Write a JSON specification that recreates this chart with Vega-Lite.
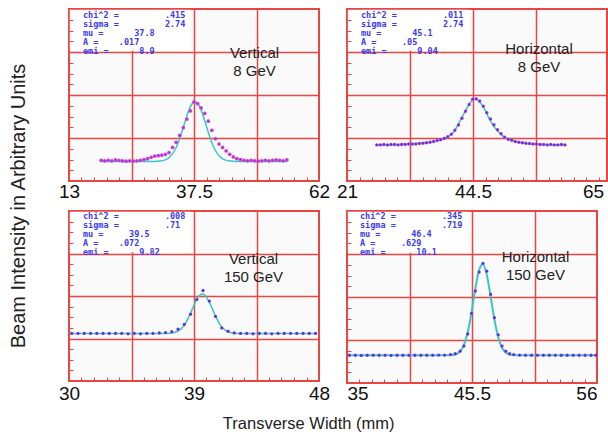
{
  "$schema": "https://vega.github.io/schema/vega-lite/v6.json",
  "padding": {"left": 9, "top": 8, "right": 4, "bottom": 5},
  "background": "white",
  "config": {
    "view": {"stroke": "#e84545", "strokeWidth": 2, "fill": "#fafafa"},
    "title": {"font": "Liberation Sans", "fontWeight": "normal", "color": "#222"}
  },
  "datasets": {
    "p1_pts": [
      {"x":19.3,"y":0.48},{"x":20.0,"y":0.47},{"x":20.7,"y":0.48},{"x":21.4,"y":0.47},{"x":22.1,"y":0.49},{"x":22.8,"y":0.48},{"x":23.5,"y":0.47},{"x":24.2,"y":0.46},{"x":24.9,"y":0.47},{"x":25.6,"y":0.46},{"x":26.3,"y":0.47},{"x":27.0,"y":0.48},{"x":27.7,"y":0.50},{"x":28.4,"y":0.52},{"x":29.1,"y":0.55},{"x":29.8,"y":0.58},{"x":30.5,"y":0.59},{"x":31.2,"y":0.60},{"x":31.9,"y":0.62},{"x":32.6,"y":0.66},{"x":33.3,"y":0.78},{"x":34.0,"y":0.90},{"x":34.7,"y":1.06},{"x":35.4,"y":1.24},{"x":36.1,"y":1.44},{"x":36.8,"y":1.63},{"x":37.5,"y":1.84},{"x":38.2,"y":1.80},{"x":38.9,"y":1.70},{"x":39.6,"y":1.57},{"x":40.3,"y":1.39},{"x":41.0,"y":1.18},{"x":41.7,"y":0.98},{"x":42.4,"y":0.86},{"x":43.1,"y":0.78},{"x":43.8,"y":0.70},{"x":44.5,"y":0.62},{"x":45.2,"y":0.56},{"x":45.9,"y":0.52},{"x":46.6,"y":0.50},{"x":47.3,"y":0.48},{"x":48.0,"y":0.47},{"x":48.7,"y":0.48},{"x":49.4,"y":0.47},{"x":50.1,"y":0.46},{"x":50.8,"y":0.47},{"x":51.5,"y":0.48},{"x":52.2,"y":0.47},{"x":52.9,"y":0.48},{"x":53.6,"y":0.49},{"x":54.3,"y":0.48},{"x":55.0,"y":0.47},{"x":55.7,"y":0.49}
    ],
    "p1_fit": [
      {"x":19.3,"y":0.455},{"x":26,"y":0.455},{"x":29.7,"y":0.456},{"x":30.7,"y":0.463},{"x":31.7,"y":0.485},{"x":32.7,"y":0.553},{"x":33.7,"y":0.709},{"x":34.2,"y":0.833},{"x":34.7,"y":0.99},{"x":35.2,"y":1.171},{"x":35.7,"y":1.364},{"x":36.2,"y":1.549},{"x":36.7,"y":1.705},{"x":37.2,"y":1.809},{"x":37.7,"y":1.845},{"x":38.2,"y":1.809},{"x":38.7,"y":1.705},{"x":39.2,"y":1.549},{"x":39.7,"y":1.364},{"x":40.2,"y":1.171},{"x":40.7,"y":0.99},{"x":41.2,"y":0.833},{"x":41.7,"y":0.709},{"x":42.7,"y":0.553},{"x":43.7,"y":0.485},{"x":44.7,"y":0.463},{"x":45.7,"y":0.456},{"x":50,"y":0.455},{"x":55.7,"y":0.455}
    ],
    "p2_pts": [
      {"x":26.2,"y":0.84},{"x":26.82,"y":0.84},{"x":27.44,"y":0.85},{"x":28.06,"y":0.84},{"x":28.68,"y":0.85},{"x":29.3,"y":0.85},{"x":29.92,"y":0.84},{"x":30.54,"y":0.85},{"x":31.16,"y":0.85},{"x":31.78,"y":0.86},{"x":32.4,"y":0.86},{"x":33.02,"y":0.86},{"x":33.64,"y":0.87},{"x":34.26,"y":0.88},{"x":34.88,"y":0.89},{"x":35.5,"y":0.90},{"x":36.12,"y":0.92},{"x":36.74,"y":0.94},{"x":37.36,"y":0.96},{"x":37.98,"y":0.99},{"x":38.6,"y":1.03},{"x":39.22,"y":1.09},{"x":39.84,"y":1.18},{"x":40.46,"y":1.30},{"x":41.08,"y":1.46},{"x":41.7,"y":1.62},{"x":42.32,"y":1.78},{"x":42.94,"y":1.90},{"x":43.56,"y":1.91},{"x":44.18,"y":1.86},{"x":44.8,"y":1.74},{"x":45.42,"y":1.59},{"x":46.04,"y":1.44},{"x":46.66,"y":1.31},{"x":47.28,"y":1.19},{"x":47.9,"y":1.10},{"x":48.52,"y":1.02},{"x":49.14,"y":0.97},{"x":49.76,"y":0.95},{"x":50.38,"y":0.92},{"x":51.0,"y":0.90},{"x":51.62,"y":0.89},{"x":52.24,"y":0.88},{"x":52.86,"y":0.87},{"x":53.48,"y":0.86},{"x":54.1,"y":0.86},{"x":54.72,"y":0.85},{"x":55.34,"y":0.85},{"x":55.96,"y":0.84},{"x":56.58,"y":0.85},{"x":57.2,"y":0.84},{"x":57.82,"y":0.84},{"x":58.44,"y":0.85},{"x":59.06,"y":0.84}
    ],
    "p2_fit": [
      {"x":26.16,"y":0.84},{"x":30.29,"y":0.85},{"x":33.38,"y":0.87},{"x":35.45,"y":0.90},{"x":37.0,"y":0.95},{"x":38.54,"y":1.03},{"x":39.57,"y":1.13},{"x":40.6,"y":1.36},{"x":41.64,"y":1.62},{"x":42.67,"y":1.85},{"x":43.29,"y":1.91},{"x":43.91,"y":1.87},{"x":44.73,"y":1.74},{"x":45.76,"y":1.47},{"x":46.8,"y":1.24},{"x":47.83,"y":1.09},{"x":48.86,"y":0.99},{"x":50.41,"y":0.92},{"x":51.95,"y":0.88},{"x":55.05,"y":0.85},{"x":58.97,"y":0.84}
    ],
    "p3_pts": [
      {"x":30.2,"y":1.12},{"x":30.65,"y":1.12},{"x":31.1,"y":1.12},{"x":31.55,"y":1.12},{"x":32.0,"y":1.12},{"x":32.45,"y":1.12},{"x":32.9,"y":1.12},{"x":33.35,"y":1.12},{"x":33.8,"y":1.12},{"x":34.25,"y":1.11},{"x":34.7,"y":1.12},{"x":35.15,"y":1.11},{"x":35.6,"y":1.12},{"x":36.05,"y":1.12},{"x":36.5,"y":1.13},{"x":36.95,"y":1.14},{"x":37.4,"y":1.16},{"x":37.85,"y":1.22},{"x":38.3,"y":1.33},{"x":38.75,"y":1.57},{"x":39.2,"y":1.92},{"x":39.65,"y":2.13},{"x":40.1,"y":1.88},{"x":40.55,"y":1.52},{"x":41.0,"y":1.25},{"x":41.45,"y":1.17},{"x":41.9,"y":1.13},{"x":42.35,"y":1.12},{"x":42.8,"y":1.12},{"x":43.25,"y":1.11},{"x":43.7,"y":1.12},{"x":44.15,"y":1.12},{"x":44.6,"y":1.11},{"x":45.05,"y":1.12},{"x":45.5,"y":1.12},{"x":45.95,"y":1.12},{"x":46.4,"y":1.12},{"x":46.85,"y":1.12},{"x":47.3,"y":1.12},{"x":47.75,"y":1.12}
    ],
    "p3_fit": [
      {"x":30.2,"y":1.115},{"x":36.6,"y":1.115},{"x":37.1,"y":1.118},{"x":37.6,"y":1.139},{"x":38.1,"y":1.235},{"x":38.35,"y":1.34},{"x":38.6,"y":1.49},{"x":38.85,"y":1.673},{"x":39.1,"y":1.856},{"x":39.35,"y":1.994},{"x":39.6,"y":2.045},{"x":39.85,"y":1.994},{"x":40.1,"y":1.856},{"x":40.35,"y":1.673},{"x":40.6,"y":1.49},{"x":40.85,"y":1.34},{"x":41.1,"y":1.235},{"x":41.6,"y":1.139},{"x":42.1,"y":1.118},{"x":42.6,"y":1.115},{"x":47.75,"y":1.115}
    ],
    "p4_pts": [
      {"x":35.2,"y":0.645},{"x":35.7,"y":0.645},{"x":36.2,"y":0.64},{"x":36.7,"y":0.645},{"x":37.2,"y":0.645},{"x":37.7,"y":0.645},{"x":38.2,"y":0.645},{"x":38.7,"y":0.64},{"x":39.2,"y":0.645},{"x":39.7,"y":0.645},{"x":40.2,"y":0.645},{"x":40.7,"y":0.645},{"x":41.2,"y":0.645},{"x":41.7,"y":0.645},{"x":42.2,"y":0.645},{"x":42.7,"y":0.65},{"x":43.2,"y":0.65},{"x":43.7,"y":0.66},{"x":44.1,"y":0.68},{"x":44.5,"y":0.74},{"x":44.82,"y":0.86},{"x":45.14,"y":1.14},{"x":45.46,"y":1.62},{"x":45.78,"y":2.14},{"x":46.1,"y":2.58},{"x":46.42,"y":2.78},{"x":46.74,"y":2.60},{"x":47.06,"y":2.06},{"x":47.38,"y":1.52},{"x":47.7,"y":1.12},{"x":48.02,"y":0.86},{"x":48.34,"y":0.74},{"x":48.66,"y":0.68},{"x":49.0,"y":0.66},{"x":49.5,"y":0.65},{"x":50.0,"y":0.645},{"x":50.5,"y":0.645},{"x":51.0,"y":0.645},{"x":51.5,"y":0.645},{"x":52.0,"y":0.645},{"x":52.5,"y":0.645},{"x":53.0,"y":0.645},{"x":53.5,"y":0.645},{"x":54.0,"y":0.645},{"x":54.5,"y":0.645},{"x":55.0,"y":0.645},{"x":55.5,"y":0.645},{"x":55.9,"y":0.645}
    ],
    "p4_fit": [
      {"x":35.2,"y":0.645},{"x":43.6,"y":0.647},{"x":44.2,"y":0.674},{"x":44.5,"y":0.73},{"x":44.82,"y":0.88},{"x":45.14,"y":1.18},{"x":45.46,"y":1.64},{"x":45.78,"y":2.19},{"x":46.1,"y":2.63},{"x":46.42,"y":2.76},{"x":46.74,"y":2.52},{"x":47.06,"y":2.02},{"x":47.38,"y":1.48},{"x":47.7,"y":1.07},{"x":48.02,"y":0.82},{"x":48.34,"y":0.71},{"x":48.66,"y":0.66},{"x":49.2,"y":0.648},{"x":55.9,"y":0.645}
    ]
  },
  "title": {"text": "Transverse Width (mm)", "orient": "bottom", "anchor": "middle", "offset": 12, "fontSize": 16.5},
  "vconcat": [
    {
      "title": {"text": "Beam Intensity in Arbitrary Units", "orient": "left", "anchor": "middle", "offset": 28, "fontSize": 20},
      "columns": 2,
      "spacing": {"row": 30, "column": 28},
      "bounds": "flush",
      "concat": [
        {
          "width": 250, "height": 172,
          "data": {"values": [{"stats": "chi^2 =\u00a0\u00a0\u00a0\u00a0\u00a0\u00a0\u00a0\u00a0\u00a0.415\nsigma =\u00a0\u00a0\u00a0\u00a0\u00a0\u00a0\u00a0\u00a0\u00a02.74\nmu =\u00a0\u00a0\u00a0\u00a0\u00a0\u00a037.8\nA =\u00a0\u00a0\u00a0\u00a0.017\nemi =\u00a0\u00a0\u00a0\u00a0\u00a0\u00a08.9", "label": "Vertical\n8 GeV"}]},
          "layer": [
            {"mark": {"type": "rect", "fill": "white"},
             "encoding": {
               "x": {"datum": 13.15, "type": "quantitative", "scale": {"domain": [13, 62], "nice": false, "zero": false}, "axis": {"orient": "top", "title": null, "values": [25.25, 37.5, 49.75], "grid": true, "gridColor": "#e84545", "gridWidth": 1.5, "gridOpacity": 1, "ticks": false, "labels": false, "domain": false, "zindex": 0}},
               "x2": {"datum": 36.8},
               "y": {"datum": 3.03, "type": "quantitative", "scale": {"domain": [0, 4], "nice": false, "zero": false}, "axis": {"orient": "right", "title": null, "values": [1, 2, 3], "grid": true, "gridColor": "#e84545", "gridWidth": 1.5, "gridOpacity": 1, "ticks": false, "labels": false, "domain": false, "zindex": 0}},
               "y2": {"datum": 3.98}
             }},
            {"data": {"name": "p1_fit"}, "mark": {"type": "line", "color": "#38c6c6", "strokeWidth": 1.5, "interpolate": "monotone"},
             "encoding": {"x": {"field": "x", "type": "quantitative", "scale": {"domain": [13, 62], "nice": false, "zero": false}, "axis": null}, "y": {"field": "y", "type": "quantitative", "scale": {"domain": [0, 4], "nice": false, "zero": false}, "axis": null}}},
            {"data": {"name": "p1_pts"}, "mark": {"type": "point", "shape": "circle", "filled": true, "size": 14, "color": "#d040d4", "opacity": 1},
             "encoding": {
               "x": {"field": "x", "type": "quantitative", "scale": {"domain": [13, 62], "nice": false, "zero": false}, "axis": {"orient": "bottom", "title": null, "values": [13,15.45,17.9,20.35,22.8,25.25,27.7,30.15,32.6,35.05,37.5,39.95,42.4,44.85,47.3,49.75,52.2,54.65,57.1,59.55,62], "offset": -4, "tickSize": 4, "tickWidth": 1, "tickColor": "#e84545", "domain": false, "grid": false, "labelExpr": "datum.value == 13 ? '13' : datum.value == 37.5 ? '37.5' : datum.value == 62 ? '62' : ''", "labelFont": "Liberation Sans", "labelFontSize": 19, "labelColor": "#111", "labelPadding": 1, "labelFlush": false, "labelOverlap": false, "zindex": 1}},
               "y": {"field": "y", "type": "quantitative", "scale": {"domain": [0, 4], "nice": false, "zero": false}, "axis": {"orient": "left", "title": null, "values": [0.25,0.5,0.75,1,1.25,1.5,1.75,2,2.25,2.5,2.75,3,3.25,3.5,3.75], "offset": -4, "tickSize": 4, "tickWidth": 1, "tickColor": "#e84545", "domain": false, "grid": false, "labels": false, "zindex": 1}}
             }},
            {"data": {"name": "p1_pts"}, "mark": {"type": "point", "shape": "circle", "filled": true, "size": 2, "color": "#6a3ad4", "opacity": 0.8},
             "encoding": {"x": {"field": "x", "type": "quantitative", "scale": {"domain": [13, 62], "nice": false, "zero": false}, "axis": null}, "y": {"field": "y", "type": "quantitative", "scale": {"domain": [0, 4], "nice": false, "zero": false}, "axis": null}}},
            {"mark": {"type": "text", "align": "left", "baseline": "top", "lineBreak": "\n", "lineHeight": 9, "font": "DejaVu Sans Mono", "fontWeight": "bold", "fontSize": 8.5, "color": "#3c3cf0", "dx": 14, "dy": 2},
             "encoding": {"x": {"datum": 13, "type": "quantitative", "axis": null}, "y": {"datum": 4, "type": "quantitative", "axis": null}, "text": {"field": "stats"}}},
            {"mark": {"type": "text", "align": "center", "baseline": "middle", "lineBreak": "\n", "lineHeight": 18, "font": "Liberation Sans", "fontSize": 15, "color": "#222", "dx": -2, "dy": 1},
             "encoding": {"x": {"datum": 49.75, "type": "quantitative", "axis": null}, "y": {"datum": 3, "type": "quantitative", "axis": null}, "text": {"field": "label"}}}
          ],
          "resolve": {"axis": {"x": "independent", "y": "independent"}}
        },
        {
          "width": 260, "height": 172,
          "data": {"values": [{"stats": "chi^2 =\u00a0\u00a0\u00a0\u00a0\u00a0\u00a0\u00a0\u00a0\u00a0.011\nsigma =\u00a0\u00a0\u00a0\u00a0\u00a0\u00a0\u00a0\u00a0\u00a02.74\nmu =\u00a0\u00a0\u00a0\u00a0\u00a0\u00a045.1\nA =\u00a0\u00a0\u00a0\u00a0\u00a0.05\nemi =\u00a0\u00a0\u00a0\u00a0\u00a0\u00a09.04", "label": "Horizontal\n8 GeV"}]},
          "layer": [
            {"mark": {"type": "rect", "fill": "white"},
             "encoding": {
               "x": {"datum": 21.15, "type": "quantitative", "scale": {"domain": [21, 66.4], "nice": false, "zero": false}, "axis": {"orient": "top", "title": null, "values": [32, 43, 54], "grid": true, "gridColor": "#e84545", "gridWidth": 1.5, "gridOpacity": 1, "ticks": false, "labels": false, "domain": false, "zindex": 0}},
               "x2": {"datum": 42.4},
               "y": {"datum": 3.03, "type": "quantitative", "scale": {"domain": [0, 4], "nice": false, "zero": false}, "axis": {"orient": "right", "title": null, "values": [1, 2, 3], "grid": true, "gridColor": "#e84545", "gridWidth": 1.5, "gridOpacity": 1, "ticks": false, "labels": false, "domain": false, "zindex": 0}},
               "y2": {"datum": 3.98}
             }},
            {"data": {"name": "p2_fit"}, "mark": {"type": "line", "color": "#38c6c6", "strokeWidth": 1.5, "interpolate": "monotone"},
             "encoding": {"x": {"field": "x", "type": "quantitative", "scale": {"domain": [21, 66.4], "nice": false, "zero": false}, "axis": null}, "y": {"field": "y", "type": "quantitative", "scale": {"domain": [0, 4], "nice": false, "zero": false}, "axis": null}}},
            {"data": {"name": "p2_pts"}, "mark": {"type": "point", "shape": "circle", "filled": true, "size": 12, "color": "#b63cd4", "opacity": 1},
             "encoding": {
               "x": {"field": "x", "type": "quantitative", "scale": {"domain": [21, 66.4], "nice": false, "zero": false}, "axis": {"orient": "bottom", "title": null, "values": [21,23.2,25.4,27.6,29.8,32,34.2,36.4,38.6,40.8,43,45.2,47.4,49.6,51.8,54,56.2,58.4,60.6,62.8,65], "offset": -4, "tickSize": 4, "tickWidth": 1, "tickColor": "#e84545", "domain": false, "grid": false, "labelExpr": "datum.value == 21 ? '21' : datum.value == 43 ? '44.5' : datum.value == 65 ? '65' : ''", "labelFont": "Liberation Sans", "labelFontSize": 19, "labelColor": "#111", "labelPadding": 1, "labelFlush": false, "labelOverlap": false, "labelOffset": {"condition": {"test": "datum.value == 65", "value": -6}, "value": 0}, "zindex": 1}},
               "y": {"field": "y", "type": "quantitative", "scale": {"domain": [0, 4], "nice": false, "zero": false}, "axis": {"orient": "left", "title": null, "values": [0.25,0.5,0.75,1,1.25,1.5,1.75,2,2.25,2.5,2.75,3,3.25,3.5,3.75], "offset": -4, "tickSize": 4, "tickWidth": 1, "tickColor": "#e84545", "domain": false, "grid": false, "labels": false, "zindex": 1}}
             }},
            {"data": {"name": "p2_pts"}, "mark": {"type": "point", "shape": "circle", "filled": true, "size": 4, "color": "#4a3ad4", "opacity": 1},
             "encoding": {"x": {"field": "x", "type": "quantitative", "scale": {"domain": [21, 66.4], "nice": false, "zero": false}, "axis": null}, "y": {"field": "y", "type": "quantitative", "scale": {"domain": [0, 4], "nice": false, "zero": false}, "axis": null}}},
            {"mark": {"type": "text", "align": "left", "baseline": "top", "lineBreak": "\n", "lineHeight": 9, "font": "DejaVu Sans Mono", "fontWeight": "bold", "fontSize": 8.5, "color": "#3c3cf0", "dx": 14, "dy": 2},
             "encoding": {"x": {"datum": 21, "type": "quantitative", "axis": null}, "y": {"datum": 4, "type": "quantitative", "axis": null}, "text": {"field": "stats"}}},
            {"mark": {"type": "text", "align": "center", "baseline": "middle", "lineBreak": "\n", "lineHeight": 18, "font": "Liberation Sans", "fontSize": 15, "color": "#222", "dx": 3, "dy": -3},
             "encoding": {"x": {"datum": 54, "type": "quantitative", "axis": null}, "y": {"datum": 3, "type": "quantitative", "axis": null}, "text": {"field": "label"}}}
          ],
          "resolve": {"axis": {"x": "independent", "y": "independent"}}
        },
        {
          "width": 250, "height": 170,
          "data": {"values": [{"stats": "chi^2 =\u00a0\u00a0\u00a0\u00a0\u00a0\u00a0\u00a0\u00a0\u00a0.008\nsigma =\u00a0\u00a0\u00a0\u00a0\u00a0\u00a0\u00a0\u00a0\u00a0.71\nmu =\u00a0\u00a0\u00a0\u00a0\u00a039.5\nA =\u00a0\u00a0\u00a0\u00a0.072\nemi =\u00a0\u00a0\u00a0\u00a0\u00a0\u00a09.82", "label": "Vertical\n150 GeV"}]},
          "layer": [
            {"mark": {"type": "rect", "fill": "white"},
             "encoding": {
               "x": {"datum": 30.06, "type": "quantitative", "scale": {"domain": [30, 48], "nice": false, "zero": false}, "axis": {"orient": "top", "title": null, "values": [34.5, 39, 43.5], "grid": true, "gridColor": "#e84545", "gridWidth": 1.5, "gridOpacity": 1, "ticks": false, "labels": false, "domain": false, "zindex": 0}},
               "x2": {"datum": 38.75},
               "y": {"datum": 3.03, "type": "quantitative", "scale": {"domain": [0, 4], "nice": false, "zero": false}, "axis": {"orient": "right", "title": null, "values": [1, 2, 3], "grid": true, "gridColor": "#e84545", "gridWidth": 1.5, "gridOpacity": 1, "ticks": false, "labels": false, "domain": false, "zindex": 0}},
               "y2": {"datum": 3.98}
             }},
            {"data": {"name": "p3_fit"}, "mark": {"type": "line", "color": "#38c6c6", "strokeWidth": 1.5, "interpolate": "monotone"},
             "encoding": {"x": {"field": "x", "type": "quantitative", "scale": {"domain": [30, 48], "nice": false, "zero": false}, "axis": null}, "y": {"field": "y", "type": "quantitative", "scale": {"domain": [0, 4], "nice": false, "zero": false}, "axis": null}}},
            {"data": {"name": "p3_pts"}, "mark": {"type": "point", "shape": "circle", "filled": true, "size": 11, "color": "#a040d4", "opacity": 1},
             "encoding": {
               "x": {"field": "x", "type": "quantitative", "scale": {"domain": [30, 48], "nice": false, "zero": false}, "axis": {"orient": "bottom", "title": null, "values": [30,30.9,31.8,32.7,33.6,34.5,35.4,36.3,37.2,38.1,39,39.9,40.8,41.7,42.6,43.5,44.4,45.3,46.2,47.1,48], "offset": -4, "tickSize": 4, "tickWidth": 1, "tickColor": "#e84545", "domain": false, "grid": false, "labelExpr": "datum.value == 30 ? '30' : datum.value == 39 ? '39' : datum.value == 48 ? '48' : ''", "labelFont": "Liberation Sans", "labelFontSize": 19, "labelColor": "#111", "labelPadding": 3, "labelFlush": false, "labelOverlap": false, "zindex": 1}},
               "y": {"field": "y", "type": "quantitative", "scale": {"domain": [0, 4], "nice": false, "zero": false}, "axis": {"orient": "left", "title": null, "values": [0.25,0.5,0.75,1,1.25,1.5,1.75,2,2.25,2.5,2.75,3,3.25,3.5,3.75], "offset": -4, "tickSize": 4, "tickWidth": 1, "tickColor": "#e84545", "domain": false, "grid": false, "labels": false, "zindex": 1}}
             }},
            {"data": {"name": "p3_pts"}, "mark": {"type": "point", "shape": "circle", "filled": true, "size": 5, "color": "#3a3ad4", "opacity": 1},
             "encoding": {"x": {"field": "x", "type": "quantitative", "scale": {"domain": [30, 48], "nice": false, "zero": false}, "axis": null}, "y": {"field": "y", "type": "quantitative", "scale": {"domain": [0, 4], "nice": false, "zero": false}, "axis": null}}},
            {"mark": {"type": "text", "align": "left", "baseline": "top", "lineBreak": "\n", "lineHeight": 9, "font": "DejaVu Sans Mono", "fontWeight": "bold", "fontSize": 8.5, "color": "#3c3cf0", "dx": 14, "dy": 1},
             "encoding": {"x": {"datum": 30, "type": "quantitative", "axis": null}, "y": {"datum": 4, "type": "quantitative", "axis": null}, "text": {"field": "stats"}}},
            {"mark": {"type": "text", "align": "center", "baseline": "middle", "lineBreak": "\n", "lineHeight": 18, "font": "Liberation Sans", "fontSize": 15, "color": "#222", "dx": -3, "dy": 5},
             "encoding": {"x": {"datum": 43.5, "type": "quantitative", "axis": null}, "y": {"datum": 3, "type": "quantitative", "axis": null}, "text": {"field": "label"}}}
          ],
          "resolve": {"axis": {"x": "independent", "y": "independent"}}
        },
        {
          "width": 250, "height": 172,
          "data": {"values": [{"stats": "chi^2 =\u00a0\u00a0\u00a0\u00a0\u00a0\u00a0\u00a0\u00a0\u00a0.345\nsigma =\u00a0\u00a0\u00a0\u00a0\u00a0\u00a0\u00a0\u00a0\u00a0.719\nmu =\u00a0\u00a0\u00a0\u00a0\u00a0\u00a046.4\nA =\u00a0\u00a0\u00a0\u00a0\u00a0.629\nemi =\u00a0\u00a0\u00a0\u00a0\u00a0\u00a010.1", "label": "Horizontal\n150 GeV"}]},
          "layer": [
            {"mark": {"type": "rect", "fill": "white"},
             "encoding": {
               "x": {"datum": 35.07, "type": "quantitative", "scale": {"domain": [35, 56], "nice": false, "zero": false}, "axis": {"orient": "top", "title": null, "values": [40.25, 45.5, 50.75], "grid": true, "gridColor": "#e84545", "gridWidth": 1.5, "gridOpacity": 1, "ticks": false, "labels": false, "domain": false, "zindex": 0}},
               "x2": {"datum": 45.2},
               "y": {"datum": 3.03, "type": "quantitative", "scale": {"domain": [0, 4], "nice": false, "zero": false}, "axis": {"orient": "right", "title": null, "values": [1, 2, 3], "grid": true, "gridColor": "#e84545", "gridWidth": 1.5, "gridOpacity": 1, "ticks": false, "labels": false, "domain": false, "zindex": 0}},
               "y2": {"datum": 3.98}
             }},
            {"data": {"name": "p4_fit"}, "mark": {"type": "line", "color": "#38c6c6", "strokeWidth": 2, "interpolate": "monotone"},
             "encoding": {"x": {"field": "x", "type": "quantitative", "scale": {"domain": [35, 56], "nice": false, "zero": false}, "axis": null}, "y": {"field": "y", "type": "quantitative", "scale": {"domain": [0, 4], "nice": false, "zero": false}, "axis": null}}},
            {"data": {"name": "p4_pts"}, "mark": {"type": "point", "shape": "circle", "filled": true, "size": 11, "color": "#a040d4", "opacity": 1},
             "encoding": {
               "x": {"field": "x", "type": "quantitative", "scale": {"domain": [35, 56], "nice": false, "zero": false}, "axis": {"orient": "bottom", "title": null, "values": [35,36.05,37.1,38.15,39.2,40.25,41.3,42.35,43.4,44.45,45.5,46.55,47.6,48.65,49.7,50.75,51.8,52.85,53.9,54.95,56], "offset": -4, "tickSize": 4, "tickWidth": 1, "tickColor": "#e84545", "domain": false, "grid": false, "labelExpr": "datum.value == 35 ? '35' : datum.value == 45.5 ? '45.5' : datum.value == 56 ? '56' : ''", "labelFont": "Liberation Sans", "labelFontSize": 19, "labelColor": "#111", "labelPadding": 1, "labelFlush": true, "labelOverlap": false, "zindex": 1}},
               "y": {"field": "y", "type": "quantitative", "scale": {"domain": [0, 4], "nice": false, "zero": false}, "axis": {"orient": "left", "title": null, "values": [0.25,0.5,0.75,1,1.25,1.5,1.75,2,2.25,2.5,2.75,3,3.25,3.5,3.75], "offset": -4, "tickSize": 4, "tickWidth": 1, "tickColor": "#e84545", "domain": false, "grid": false, "labels": false, "zindex": 1}}
             }},
            {"data": {"name": "p4_pts"}, "mark": {"type": "point", "shape": "circle", "filled": true, "size": 5, "color": "#3a3ad4", "opacity": 1},
             "encoding": {"x": {"field": "x", "type": "quantitative", "scale": {"domain": [35, 56], "nice": false, "zero": false}, "axis": null}, "y": {"field": "y", "type": "quantitative", "scale": {"domain": [0, 4], "nice": false, "zero": false}, "axis": null}}},
            {"mark": {"type": "text", "align": "left", "baseline": "top", "lineBreak": "\n", "lineHeight": 9, "font": "DejaVu Sans Mono", "fontWeight": "bold", "fontSize": 8.5, "color": "#3c3cf0", "dx": 13, "dy": 1},
             "encoding": {"x": {"datum": 35, "type": "quantitative", "axis": null}, "y": {"datum": 4, "type": "quantitative", "axis": null}, "text": {"field": "stats"}}},
            {"mark": {"type": "text", "align": "center", "baseline": "middle", "lineBreak": "\n", "lineHeight": 18, "font": "Liberation Sans", "fontSize": 15, "color": "#222", "dx": 1, "dy": 3},
             "encoding": {"x": {"datum": 50.75, "type": "quantitative", "axis": null}, "y": {"datum": 3, "type": "quantitative", "axis": null}, "text": {"field": "label"}}}
          ],
          "resolve": {"axis": {"x": "independent", "y": "independent"}}
        }
      ]
    }
  ]
}
